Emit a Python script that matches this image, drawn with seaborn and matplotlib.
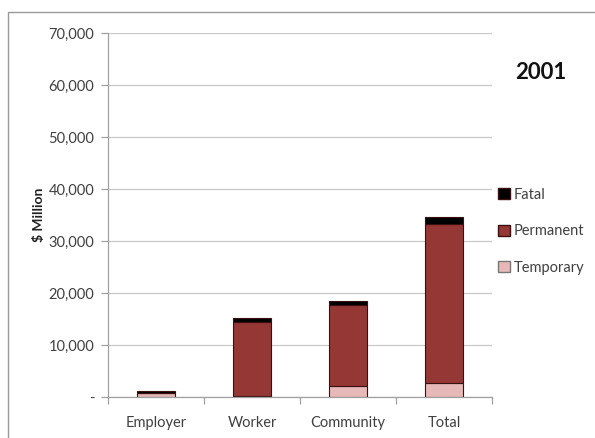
import numpy as np
import pandas as pd
import matplotlib
matplotlib.use("Agg")
import matplotlib.pyplot as plt
from matplotlib.patches import Rectangle, Patch
from matplotlib.ticker import FuncFormatter
import seaborn as sns

categories = ["Employer", "Worker", "Community", "Total"]
temporary = [700, 100, 2100, 2750]
permanent = [150, 14400, 15650, 30520]
fatal = [300, 750, 700, 1280]
yticks = [0, 10000, 20000, 30000, 40000, 50000, 60000, 70000]
title_text = "2001"
ylabel_text = "$ Million"

sns.set_theme(style="white")
plt.rcParams["font.family"] = ["Lato", "DejaVu Sans"]

c_temp = "#E6B9B8"
c_perm = "#953735"
c_fatal = "#000000"
edge = "#3a1010"

fig = plt.figure(figsize=(5.95, 4.38), dpi=100)
ax = fig.add_axes([0.1815, 0.0936, 0.827 - 0.1815, 0.9247 - 0.0936])

df = pd.DataFrame({"cat": categories, "temp": temporary, "perm": permanent, "fatal": fatal})
b1 = np.array(temporary)
b2 = b1 + np.array(permanent)

sns.barplot(data=df, x="cat", y="temp", color=c_temp, width=0.4, ax=ax,
            edgecolor=edge, linewidth=0.8, saturation=1)
sns.barplot(data=df, x="cat", y="perm", color=c_perm, width=0.4, ax=ax,
            bottom=b1, edgecolor=edge, linewidth=0.8, saturation=1)
sns.barplot(data=df, x="cat", y="fatal", color=c_fatal, width=0.4, ax=ax,
            bottom=b2, edgecolor=edge, linewidth=0.8, saturation=1)

ax.set_xlim(-0.5, 3.5)
ax.set_ylim(0, 70000)
ax.set_yticks(yticks)
ax.yaxis.set_major_formatter(FuncFormatter(lambda v, p: "-" if v == 0 else f"{int(v):,}"))
ax.grid(axis="y", color="#c8c8c8", linewidth=0.9)
ax.set_axisbelow(True)
for s in ["top", "right"]:
    ax.spines[s].set_visible(False)
for s in ["left", "bottom"]:
    ax.spines[s].set_color("#a0a0a0")
    ax.spines[s].set_linewidth(0.9)

ax.set_xlabel("")
ax.set_ylabel(ylabel_text, fontsize=10, fontweight="bold", color="#222222", labelpad=2)
ax.tick_params(axis="y", labelsize=10.5, colors="#404040", length=5, width=0.9,
               left=True, pad=5)
ax.tick_params(axis="y", color="#a0a0a0")
ax.tick_params(axis="x", labelsize=10.5, colors="#404040", length=0, pad=14)
# boundary tick marks on the x axis
ax.set_xticks([-0.5, 0.5, 1.5, 2.5, 3.5], minor=True)
ax.tick_params(axis="x", which="minor", length=5, width=0.9, color="#a0a0a0", bottom=True)

handles = [Patch(facecolor=c_fatal, edgecolor=edge, label="Fatal"),
           Patch(facecolor=c_perm, edgecolor=edge, label="Permanent"),
           Patch(facecolor=c_temp, edgecolor="#777777", label="Temporary")]
leg = ax.legend(handles=handles, loc="center left", bbox_to_anchor=(1.0, 0.455),
                frameon=False, fontsize=10.5, handlelength=0.8, handleheight=0.8,
                handletextpad=0.3, labelspacing=1.55, borderaxespad=0)
for t in leg.get_texts():
    t.set_color("#404040")

fig.text(0.908, 0.835, title_text, fontsize=16, fontweight="bold", ha="center", va="center", color="#111111")

fig.patches.append(Rectangle((0.013, -0.02), 1.2, 0.993, transform=fig.transFigure,
                             fill=False, edgecolor="#9a9a9a", linewidth=1.0))

fig.savefig("out.png", dpi=100)
